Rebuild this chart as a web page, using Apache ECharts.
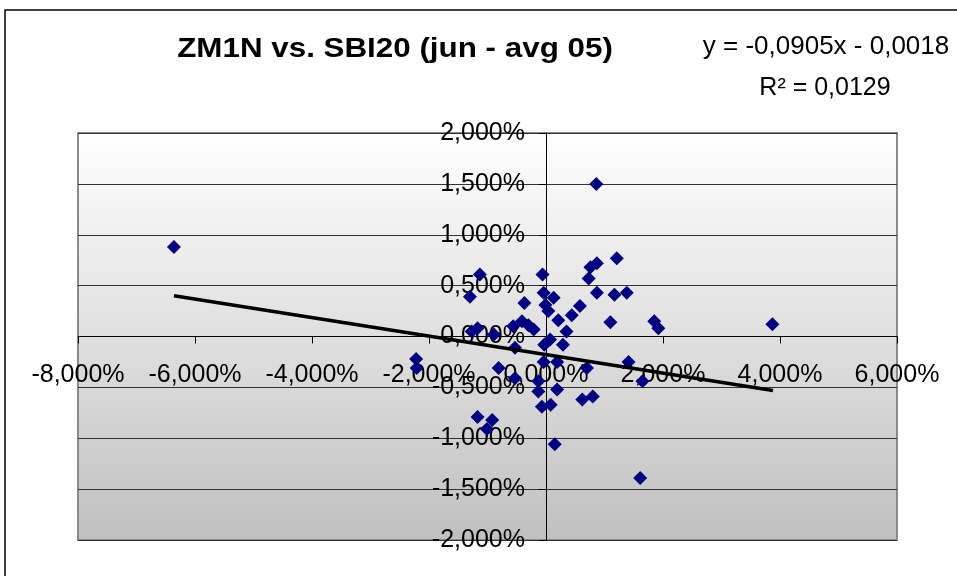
<!DOCTYPE html>
<html>
<head>
<meta charset="utf-8">
<script src="https://cdn.jsdelivr.net/npm/echarts@6/dist/echarts.min.js"></script>
<style>html,body{margin:0;padding:0;background:#fff}#c{width:957px;height:576px}</style>
</head>
<body>
<div id="c"></div>
<script>
const titleText = 'ZM1N vs. SBI20 (jun - avg 05)';
const eqLine1 = 'y = -0,0905x - 0,0018';
const eqLine2 = 'R² = 0,0129';
// SBI20 daily return (%) on x, ZM1N daily return (%) on y
const xVals = [-6.36, 3.87, 0.86, 1.21, 0.87, 0.76, 0.73, 0.87, 1.17, 1.38,
  1.10, 1.85, 1.92, 0.58, 0.44, 0.35, 0.21, 0.13, -0.04, -0.06,
  -0.01, 0.04, -0.37, -1.13, -1.30, -0.41, -0.30, -0.21, -0.56, -1.17,
  -1.27, -0.89, 0.07, -0.03, 0.29, -0.53, 1.41, -0.04, 0.19, 0.70,
  -0.81, -0.53, -0.13, -0.13, 0.19, -0.07, 0.08, 0.62, 0.80, 1.65,
  -1.17, -0.92, -1.01, 0.15, 1.61, -2.22, -2.21];
const yVals = [0.88, 0.12, 1.50, 0.77, 0.72, 0.68, 0.57, 0.43, 0.41, 0.43,
  0.14, 0.15, 0.08, 0.30, 0.21, 0.05, 0.16, 0.38, 0.43, 0.61,
  0.31, 0.25, 0.33, 0.61, 0.39, 0.15, 0.11, 0.07, 0.10, 0.08,
  0.05, 0.02, -0.03, -0.08, -0.08, -0.11, -0.25, -0.25, -0.25, -0.31,
  -0.31, -0.41, -0.44, -0.54, -0.52, -0.69, -0.67, -0.62, -0.59, -0.44,
  -0.79, -0.82, -0.91, -1.06, -1.39, -0.22, -0.31];
// linear trendline endpoints
const trendX = [-6.36, 3.88];
const trendY = [0.40, -0.53];
const xTicks = {min: -8, max: 6, interval: 2};
const yTicks = {min: -2, max: 2, interval: 0.5};

const FONT = '"Liberation Sans", Arial, sans-serif';
const fmt = v => (v < 0 ? '-' : '') + Math.abs(v).toFixed(3).replace('.', ',') + '%';

// plot-area geometry
const G = {left: 78, top: 133, width: 819, height: 407};
// axes cross at zero: shift each axis from its edge to the zero position
const yAxisOffset = -G.width * (0 - xTicks.min) / (xTicks.max - xTicks.min);
const xAxisOffset = -G.height * (0 - yTicks.min) / (yTicks.max - yTicks.min);

const chart = echarts.init(document.getElementById('c'), null, {renderer: 'canvas'});
chart.setOption({
  animation: false,
  backgroundColor: '#ffffff',
  grid: {
    left: G.left, top: G.top, width: G.width, height: G.height,
    containLabel: false, outerBoundsMode: 'none',
    show: true,
    borderColor: '#8a8a8a', borderWidth: 2,
    backgroundColor: {type: 'linear', x: 0, y: 0, x2: 0, y2: 1,
      colorStops: [{offset: 0, color: '#ffffff'}, {offset: 1, color: '#c0c0c0'}]}
  },
  xAxis: {
    type: 'value', min: xTicks.min, max: xTicks.max, interval: xTicks.interval,
    position: 'bottom', offset: xAxisOffset,
    axisLine: {show: true, onZero: false, lineStyle: {color: '#000', width: 1}},
    axisTick: {show: true, length: 7, lineStyle: {color: '#000'}},
    splitLine: {show: false},
    axisLabel: {formatter: fmt, fontFamily: FONT, fontSize: 25, color: '#000', margin: 26}
  },
  yAxis: {
    type: 'value', min: yTicks.min, max: yTicks.max, interval: yTicks.interval,
    position: 'left', offset: yAxisOffset,
    axisLine: {show: true, onZero: false, lineStyle: {color: '#000', width: 1}},
    axisTick: {show: true, length: 7, lineStyle: {color: '#000'}},
    splitLine: {show: true, lineStyle: {color: '#333333', width: 1}},
    axisLabel: {formatter: fmt, fontFamily: FONT, fontSize: 25, color: '#000', margin: 21}
  },
  series: [
    {
      type: 'scatter', symbol: 'diamond', symbolSize: 14, z: 2,
      itemStyle: {color: '#000080', opacity: 1},
      data: xVals.map((x, i) => [x, yVals[i]])
    },
    {
      type: 'line', showSymbol: false, symbol: 'none', z: 3,
      lineStyle: {color: '#000', width: 3.5},
      data: trendX.map((x, i) => [x, trendY[i]])
    }
  ],
  graphic: [
    {type: 'rect', silent: true, z: -10,
      shape: {x: 5, y: 10, width: 1000, height: 1000},
      style: {fill: null, stroke: '#000', lineWidth: 1.5}},
    {type: 'text', x: 395, y: 49, scaleX: 1.12, z: 10,
      style: {text: titleText, x: 0, y: 0, textAlign: 'center', textVerticalAlign: 'middle',
        font: 'bold 28px ' + FONT, fill: '#000'}},
    {type: 'text', x: 826, y: 47, z: 10,
      style: {text: eqLine1, x: 0, y: 0, textAlign: 'center', textVerticalAlign: 'middle',
        font: '26px ' + FONT, fill: '#000'}},
    {type: 'text', x: 825, y: 88, z: 10,
      style: {text: eqLine2, x: 0, y: 0, textAlign: 'center', textVerticalAlign: 'middle',
        font: '25px ' + FONT, fill: '#000'}}
  ]
});
</script>
</body>
</html>
